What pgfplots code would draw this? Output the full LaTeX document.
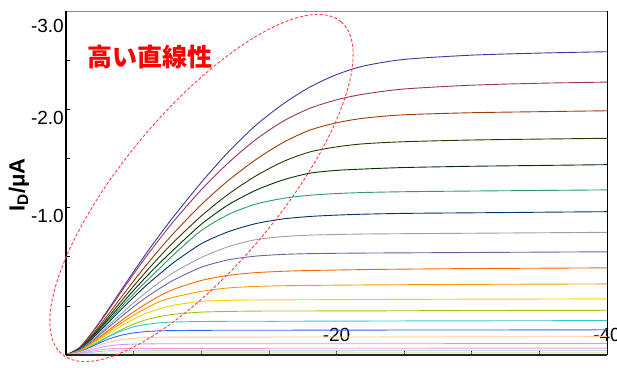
\documentclass[border=0pt]{standalone}
\usepackage{pgfplots}
\pgfplotsset{compat=1.18}
\usepackage{pgfplotstable}
\usepackage{fontspec}
\setmainfont{Liberation Sans}
\newfontfamily\jpfont{Noto Sans CJK JP}

% Output curves I_D(V_D), one column per gate voltage step (c1 = highest current)
\pgfplotstableread{
V   c1     c2     c3     c4     c5     c6     c7     c8     c9     c10    c11    c12    c13    c14    c15    c16    c17    c18    c19    c20
0   0      0      0      0      0      0      0      0      0      0      0      0      0      0      0      0      0      0      0      0
-1  -0.065 -0.064 -0.058 -0.055 -0.052 -0.049 -0.047 -0.043 -0.040 -0.036 -0.035 -0.032 -0.029 -0.028 -0.026 -0.023 -0.017 -0.012 -0.009 -0.005
-2  -0.207 -0.203 -0.185 -0.173 -0.164 -0.156 -0.149 -0.135 -0.127 -0.114 -0.108 -0.100 -0.088 -0.086 -0.079 -0.067 -0.050 -0.035 -0.025 -0.013
-3  -0.376 -0.367 -0.335 -0.313 -0.295 -0.280 -0.267 -0.243 -0.226 -0.203 -0.190 -0.175 -0.154 -0.150 -0.132 -0.106 -0.076 -0.052 -0.035 -0.017
-4  -0.552 -0.537 -0.491 -0.458 -0.430 -0.408 -0.387 -0.351 -0.326 -0.292 -0.272 -0.247 -0.216 -0.206 -0.170 -0.132 -0.090 -0.058 -0.036 -0.018
-5  -0.727 -0.707 -0.645 -0.601 -0.564 -0.532 -0.504 -0.456 -0.421 -0.376 -0.347 -0.312 -0.270 -0.245 -0.193 -0.146 -0.095 -0.058 -0.036 -0.018
-6  -0.897 -0.869 -0.793 -0.738 -0.691 -0.650 -0.614 -0.553 -0.508 -0.452 -0.413 -0.367 -0.310 -0.268 -0.205 -0.152 -0.097 -0.058 -0.036 -0.018
-7  -1.059 -1.024 -0.934 -0.868 -0.810 -0.765 -0.714 -0.642 -0.586 -0.520 -0.470 -0.405 -0.337 -0.281 -0.211 -0.155 -0.098 -0.058 -0.036 -0.018
-8  -1.214 -1.172 -1.067 -0.990 -0.923 -0.880 -0.810 -0.723 -0.656 -0.575 -0.505 -0.435 -0.356 -0.288 -0.213 -0.156 -0.098 -0.058 -0.036 -0.018
-10 -1.505 -1.441 -1.311 -1.212 -1.140 -1.085 -0.970 -0.850 -0.765 -0.650 -0.555 -0.468 -0.374 -0.292 -0.215 -0.156 -0.098 -0.058 -0.036 -0.018
-12 -1.770 -1.676 -1.522 -1.402 -1.310 -1.225 -1.075 -0.945 -0.830 -0.695 -0.585 -0.477 -0.380 -0.294 -0.216 -0.156 -0.098 -0.058 -0.036 -0.018
-14 -2.000 -1.876 -1.701 -1.559 -1.435 -1.315 -1.145 -1.005 -0.862 -0.718 -0.598 -0.480 -0.383 -0.294 -0.216 -0.156 -0.098 -0.058 -0.036 -0.018
-16 -2.185 -2.035 -1.850 -1.684 -1.525 -1.365 -1.186 -1.032 -0.877 -0.730 -0.604 -0.481 -0.384 -0.294 -0.216 -0.157 -0.098 -0.059 -0.036 -0.018
-18 -2.335 -2.150 -1.960 -1.770 -1.585 -1.393 -1.208 -1.045 -0.884 -0.737 -0.607 -0.482 -0.384 -0.295 -0.217 -0.157 -0.098 -0.059 -0.036 -0.018
-20 -2.445 -2.225 -2.025 -1.815 -1.610 -1.408 -1.220 -1.051 -0.887 -0.741 -0.609 -0.483 -0.385 -0.295 -0.217 -0.157 -0.098 -0.059 -0.036 -0.018
-22 -2.520 -2.275 -2.065 -1.842 -1.622 -1.417 -1.228 -1.055 -0.889 -0.745 -0.611 -0.484 -0.385 -0.296 -0.217 -0.157 -0.098 -0.059 -0.037 -0.018
-25 -2.578 -2.320 -2.095 -1.860 -1.635 -1.424 -1.235 -1.058 -0.891 -0.749 -0.613 -0.485 -0.386 -0.297 -0.218 -0.158 -0.098 -0.059 -0.037 -0.018
-30 -2.615 -2.353 -2.113 -1.875 -1.646 -1.430 -1.240 -1.062 -0.894 -0.754 -0.616 -0.487 -0.388 -0.298 -0.218 -0.158 -0.099 -0.060 -0.037 -0.018
-35 -2.633 -2.370 -2.122 -1.883 -1.653 -1.435 -1.245 -1.066 -0.897 -0.757 -0.618 -0.488 -0.389 -0.299 -0.219 -0.159 -0.099 -0.060 -0.037 -0.018
-40 -2.645 -2.380 -2.130 -1.890 -1.660 -1.440 -1.250 -1.070 -0.900 -0.760 -0.620 -0.490 -0.390 -0.300 -0.220 -0.160 -0.100 -0.060 -0.037 -0.018
}\idcurves

\definecolor{col1}{HTML}{3A3AA0}
\definecolor{col2}{HTML}{993366}
\definecolor{col3}{HTML}{A03A0A}
\definecolor{col4}{HTML}{333300}
\definecolor{col5}{HTML}{003300}
\definecolor{col6}{HTML}{339966}
\definecolor{col7}{HTML}{003366}
\definecolor{col8}{HTML}{A0A0A0}
\definecolor{col9}{HTML}{666699}
\definecolor{col10}{HTML}{FF6600}
\definecolor{col11}{HTML}{FF9900}
\definecolor{col12}{HTML}{FFCC00}
\definecolor{col13}{HTML}{99CC00}
\definecolor{col14}{HTML}{33CCCC}
\definecolor{col15}{HTML}{3366FF}
\definecolor{col16}{HTML}{FFCC99}
\definecolor{col17}{HTML}{CC99FF}
\definecolor{col18}{HTML}{FF99CC}
\definecolor{col19}{HTML}{99CCFF}
\definecolor{col20}{HTML}{CCE699}
\definecolor{ovalred}{RGB}{255,60,60}

\begin{document}
\begin{tikzpicture}
\useasboundingbox (0,0) rectangle (617pt,367pt);
\begin{axis}[
  at={(66pt,12pt)}, anchor=south west,
  scale only axis, width=541pt, height=344pt,
  xmin=-40, xmax=0, ymin=-3, ymax=0,
  x dir=reverse, y dir=reverse,
  axis line style={draw=none},
  clip=false,
  tick align=inside, tick pos=left,
  major tick length=4pt,
  tick style={black, line width=0.6pt},
  xtick={0,-5,-10,-15,-20,-25,-30,-35,-40},
  xticklabels={,,,,-20,,,,-40},
  xticklabel style={anchor=south, inner sep=0pt, yshift=13pt},
  ytick={0,-0.428571,-0.857143,-1.285714,-1.714286,-2.142857,-2.571429,-3},
  yticklabels={},
  extra y ticks={-1,-2,-3},
  extra y tick labels={\raisebox{18pt}[0pt][0pt]{-1.0},\raisebox{1pt}[0pt][0pt]{-2.0},\raisebox{-21pt}[0pt][0pt]{-3.0}},
  extra y tick style={major tick length=0pt},
  yticklabel style={anchor=east, inner sep=2pt},
  ticklabel style={font=\fontsize{19}{19}\selectfont},
]
\pgfplotsinvokeforeach{1,...,20}{
  \addplot[col#1, line width=0.9pt, smooth, tension=0.45] table[x=V, y=c#1] {\idcurves};
}
% frame
\draw[black!45, line width=0.8pt] (axis cs:0,-3) -- (axis cs:-40,-3);
\draw[black, line width=0.8pt] (axis cs:-40,0) -- (axis cs:-40,-3);
\draw[black!85, line width=1.4pt] (axis cs:0,0) -- (axis cs:-40,0);
\draw[black, line width=2pt] (axis cs:0,0) -- (axis cs:0,-3);
\end{axis}
% linear region highlight
\draw[ovalred, dash pattern=on 3pt off 2pt, line width=0.9pt,
      rotate around={50:(201.5pt,179pt)}]
  (201.5pt,179pt) ellipse [x radius=217pt, y radius=77.6pt];
\node[text=red, font=\jpfont\bfseries\fontsize{25}{25}\selectfont] at (150pt,310pt) {高い直線性};
\node[rotate=90, font=\bfseries\fontsize{22}{22}\selectfont] at (19pt,182pt) {I\textsubscript{D}/μA};
\end{tikzpicture}
\end{document}
